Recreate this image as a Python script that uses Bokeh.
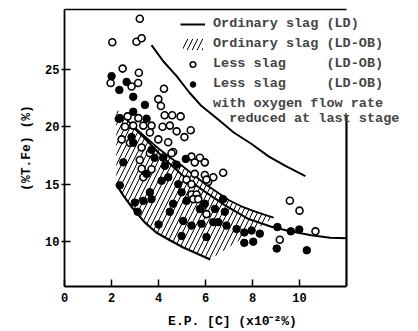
from bokeh.plotting import figure
from bokeh.models import Range1d, FixedTicker, Legend, LegendItem, LinearAxis
from bokeh.embed import file_html
from bokeh.resources import INLINE

FONT = "Liberation Mono"

# ---- data ----
less_x = [3.2, 2.03, 3.06, 3.28, 2.47, 3.16, 1.96, 2.85, 3.13, 4.23, 3.99,
          4.1, 4.26, 4.58, 4.94, 2.31, 2.68, 3.14, 2.57, 2.92, 3.35, 3.70,
          4.17, 4.48, 4.77, 5.37, 5.10, 3.63, 2.43, 2.78, 3.28, 3.99, 4.41,
          4.62, 3.63, 3.20, 4.55, 5.40, 5.76, 5.54, 5.97, 6.75, 3.28, 3.70,
          3.35, 5.54, 5.97, 6.33, 6.11, 5.19, 5.40, 6.04, 5.40, 5.62, 5.48,
          5.69, 5.90, 6.04, 9.59, 10.0, 10.68, 9.16]
less_y = [29.4, 27.35, 27.4, 27.7, 25.06, 24.7, 23.8, 23.5, 23.8, 23.3, 22.4,
          21.8, 21.0, 21.0, 20.9, 20.7, 20.9, 20.75, 20.0, 20.1, 20.1, 20.1,
          20.0, 20.1, 19.6, 19.7, 19.1, 19.5, 18.9, 18.6, 18.2, 18.9, 18.65,
          17.8, 17.7, 17.1, 17.7, 17.4, 17.3, 16.9, 16.9, 16.0, 16.35, 16.3,
          15.6, 15.9, 15.8, 15.6, 15.2, 15.4, 15.0, 15.4, 14.1, 14.1, 13.7,
          13.7, 13.1, 12.4, 13.56, 12.7, 10.9, 10.17]

red_x = [2.0, 2.33, 2.64, 2.92, 3.42, 2.92, 3.49, 2.35, 2.85, 2.92, 3.70,
         2.5, 3.83, 4.2, 4.27, 4.77, 5.16, 3.49, 2.35, 4.13, 4.41, 4.84,
         2.99, 3.11, 3.35, 3.70, 3.63, 4.0, 4.62, 4.48, 5.05, 4.98, 5.4,
         5.83, 6.04, 4.98, 5.19, 5.76, 5.97, 6.75, 6.4, 6.82, 6.54, 6.89,
         6.33, 7.32, 7.65, 7.96, 8.31, 7.65, 8.03, 9.06, 9.03, 9.63, 9.99,
         10.31]
red_y = [24.4, 23.2, 23.9, 22.6, 21.9, 21.3, 20.7, 20.75, 19.1, 18.6, 18.0,
         16.9, 17.3, 17.3, 16.6, 16.7, 17.2, 15.9, 14.9, 15.3, 15.6, 15.0,
         13.4, 12.6, 13.55, 13.7, 14.3, 11.5, 13.3, 12.6, 11.8, 10.5, 11.4,
         11.55, 10.4, 14.3, 13.55, 12.85, 13.3, 13.7, 12.85, 12.6, 11.7, 11.4,
         11.7, 11.1, 10.8, 10.97, 10.7, 9.9, 10.0, 11.27, 9.4, 10.9, 11.06,
         9.25]

# ordinary slag (LD) curve
ld_x = [3.7, 4.2, 4.77, 5.3, 5.83, 6.5, 7.2, 7.96, 8.7, 9.4, 10.25]
ld_y = [27.1, 25.7, 24.4, 23.0, 21.8, 20.7, 19.5, 18.5, 17.4, 16.6, 15.7]

# ordinary slag (LD-OB) band
band_up_x = [2.2, 2.6, 3.0, 3.5, 4.0, 4.5, 5.0, 5.5, 6.0, 6.5, 7.0, 7.5, 8.0, 8.5, 8.9]
band_up_y = [21.6, 20.7, 19.9, 19.0, 18.1, 17.3, 16.6, 15.8, 15.0, 14.3, 13.6, 13.1, 12.7, 12.35, 12.1]
band_lo_x = [2.2, 2.5, 2.9, 3.4, 3.9, 4.5, 5.05, 5.7, 6.2]
band_lo_y = [15.0, 14.0, 12.9, 11.7, 10.8, 10.1, 9.5, 8.9, 8.45]

# less slag curve
ls_x = [2.85, 3.5, 4.2, 5.0, 5.8, 6.8, 7.8, 8.8, 9.6, 10.5, 11.3, 12.0]
ls_y = [20.1, 18.8, 17.3, 15.8, 14.6, 13.2, 12.0, 11.3, 10.9, 10.55, 10.35, 10.3]

x_ticks = [0, 2, 4, 6, 8, 10]
y_ticks = [10, 15, 20, 25]
x_end = 12.0          # right edge of the drawn box
x_lo, y_lo, y_hi = -0.005, 6.1, 30.2
right_top = 21.0      # right box edge starts below the legend

p = figure(width=410, height=331, output_backend="svg", toolbar_location=None,
           x_range=Range1d(x_lo, 14.3), y_range=Range1d(y_lo, y_hi),
           min_border_left=64, min_border_right=10, min_border_top=9,
           min_border_bottom=43)
p.grid.visible = False
p.outline_line_color = None
p.background_fill_color = "white"

xb = p.below[0]
yl = p.left[0]

# band polygon
poly_x = band_up_x + band_lo_x[::-1]
poly_y = band_up_y + band_lo_y[::-1]
band = p.patch(poly_x, poly_y, fill_color="white", fill_alpha=0.0,
               hatch_pattern="/", hatch_color="black", hatch_weight=1.0,
               hatch_scale=10, line_alpha=0)
p.line(band_up_x[1:], band_up_y[1:], line_color="black", line_width=1.8)
p.line(band_lo_x, band_lo_y, line_color="black", line_width=2.2)

ld = p.line(ld_x, ld_y, line_color="black", line_width=2)
p.line(ls_x, ls_y, line_color="black", line_width=2)

op = p.scatter(less_x, less_y, marker="circle", size=7, fill_color="white",
               line_color="black", line_width=1.6)
fl = p.scatter(red_x, red_y, marker="circle", size=7.5, fill_color="black",
               line_color="black")
blank = p.scatter([], [], marker="circle", size=1, fill_alpha=0, line_alpha=0)

# box: top edge stops at x_end, right edge at x_end below the legend
top_ax = LinearAxis(bounds=(x_lo, x_end), ticker=FixedTicker(ticks=[]),
                    axis_line_width=1.5, major_tick_line_color=None,
                    minor_tick_line_color=None, major_label_text_color=None)
p.add_layout(top_ax, "above")
p.line(x=[x_end, x_end], y=[y_lo, right_top], line_color="black",
       line_width=2.2)

for ax in (xb, yl):
    ax.axis_line_width = 1.8
    ax.major_tick_line_width = 1.5
    ax.minor_tick_line_color = None
    ax.major_label_text_font = FONT
    ax.major_label_text_font_style = "bold"
    ax.major_label_text_font_size = "12px"
    ax.major_label_text_color = "black"
    ax.axis_label_text_font = FONT
    ax.axis_label_text_font_style = "bold"
    ax.axis_label_text_font_size = "13px"
    ax.axis_label_text_color = "black"

xb.bounds = (x_lo, x_end)
xb.ticker = FixedTicker(ticks=x_ticks)
yl.ticker = FixedTicker(ticks=y_ticks)
xb.major_tick_in = 7
xb.major_tick_out = 0
yl.major_tick_in = 6
yl.major_tick_out = 3
xb.major_label_standoff = 6
yl.major_label_standoff = 2
xb.axis_label = "E.P. [C] (x10\u207b\u00b2%)"
yl.axis_label = "(%T.Fe) (%)"
xb.axis_label_standoff = 9
yl.axis_label_standoff = 8

legend = Legend(items=[
    LegendItem(label="Ordinary slag (LD)", renderers=[ld]),
    LegendItem(label="Ordinary slag (LD-OB)", renderers=[band]),
    LegendItem(label="Less slag     (LD-OB)", renderers=[op]),
    LegendItem(label="Less slag     (LD-OB)", renderers=[fl]),
    LegendItem(label="with oxygen flow rate\n  reduced at last stage",
               renderers=[blank]),
], location=(116, 160))
legend.label_text_font = FONT
legend.label_text_font_style = "bold"
legend.label_text_font_size = "13.5px"
legend.label_text_line_height = 1.15
legend.glyph_width = 25
legend.glyph_height = 14
legend.label_height = 14
legend.label_standoff = 8
legend.spacing = 5
legend.padding = 0
legend.margin = 0
legend.border_line_alpha = 0
legend.background_fill_alpha = 0
p.add_layout(legend)

open("out.html", "w").write(file_html(p, INLINE))
